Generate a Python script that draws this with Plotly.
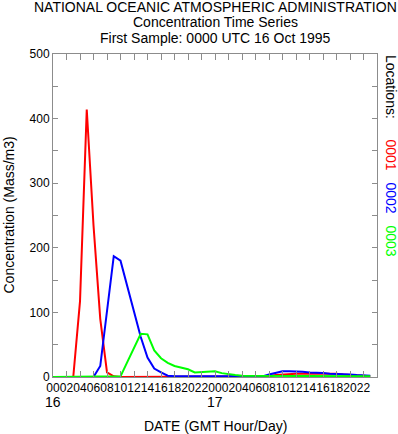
import plotly.graph_objects as go

hours = list(range(48))

loc_0001 = [0, 0, 0, 0, 117, 414, 235, 90, 7, 1,
            0, 0, 0, 0, 0, 0, 0, 0, 0, 0,
            0, 0, 0, 0, 0, 0, 0, 0, 0, 0,
            0, 0, 1, 3, 4, 5, 5, 5, 5, 5,
            5, 6, 5, 4, 3, 2, 1, 1]
loc_0002 = [0, 0, 0, 0, 0, 0, 0, 17, 102, 187,
            180, 140, 100, 62, 30, 13, 7, 2, 1, 1,
            1, 1, 1, 1, 1, 1, 1, 1, 1, 1,
            1, 1, 4, 7, 9, 9, 9, 8, 7, 7,
            6, 5, 5, 4, 4, 3, 2, 2]
loc_0003 = [0, 0, 0, 0, 0, 0, 0, 0, 0, 0,
            1, 23, 45, 67, 66, 41, 29, 22, 17, 14,
            12, 7, 8, 8, 9, 6, 4, 3, 2, 2,
            2, 2, 2, 2, 2, 2, 2, 2, 2, 2,
            2, 2, 2, 2, 2, 2, 1, 1]

series_names = ["0001", "0002", "0003"]
series_colors = ["#ff0000", "#0000ff", "#00ff00"]

x_tickvals = list(range(0, 48, 2))
x_ticktext = ["%02d" % (h % 24) for h in x_tickvals]
day_labels = ["16", "17"]
day_positions = [0, 24]

y_tickvals = list(range(0, 501, 50))
y_ticktext = [str(v) if v % 100 == 0 else "" for v in y_tickvals]

FONT = "Liberation Sans, Arial, Helvetica, sans-serif"
AXIS_COLOR = "#8c8c8c"

fig = go.Figure()
for name, vals, col in zip(series_names, [loc_0001, loc_0002, loc_0003], series_colors):
    fig.add_trace(go.Scatter(x=hours, y=vals, mode="lines", name=name,
                             line=dict(color=col, width=2)))

fig.update_layout(
    width=398, height=434,
    margin=dict(l=53, r=21, t=54, b=57),
    paper_bgcolor="white", plot_bgcolor="white",
    showlegend=False,
    font=dict(family=FONT, size=12, color="black"),
)

fig.update_xaxes(
    range=[0, 48], tickmode="array", tickvals=x_tickvals, ticktext=x_ticktext,
    ticks="inside", ticklen=6, tickcolor=AXIS_COLOR, tickwidth=1,
    showline=True, linecolor=AXIS_COLOR, linewidth=1, mirror="ticks",
    showgrid=False, zeroline=False, tickangle=0,
    tickfont=dict(size=12, family=FONT, color="black"),
)
fig.update_yaxes(
    range=[0, 500], tickmode="array", tickvals=y_tickvals, ticktext=y_ticktext,
    ticks="inside", ticklen=5, tickcolor=AXIS_COLOR, tickwidth=1,
    showline=True, linecolor=AXIS_COLOR, linewidth=1, mirror="ticks",
    showgrid=False, zeroline=False,
    tickfont=dict(size=12, family=FONT, color="black"),
)

def py(p):
    # pixel y -> paper y
    return (377 - p) / 323.0

def px(p):
    return (p - 53) / 324.0

annotations = []
titles = [("NATIONAL OCEANIC ATMOSPHERIC ADMINISTRATION", 7),
          ("Concentration Time Series", 22),
          ("First Sample: 0000 UTC 16 Oct 1995", 38)]
for txt, yy in titles:
    annotations.append(dict(text=txt, x=0.5, y=py(yy), xref="paper", yref="paper",
                            xanchor="center", yanchor="middle", showarrow=False,
                            font=dict(size=14, family=FONT, color="black")))

for lab, pos in zip(day_labels, day_positions):
    annotations.append(dict(text=lab, x=pos, y=py(402), xref="x", yref="paper",
                            xanchor="center", yanchor="middle", showarrow=False,
                            font=dict(size=14, family=FONT, color="black")))

annotations.append(dict(text="DATE (GMT Hour/Day)", x=0.5, y=py(426), xref="paper", yref="paper",
                        xanchor="center", yanchor="middle", showarrow=False,
                        font=dict(size=14, family=FONT, color="black")))
annotations.append(dict(text="Concentration (Mass/m3)", x=px(8), y=0.5, xref="paper", yref="paper",
                        xanchor="center", yanchor="middle", showarrow=False, textangle=-90,
                        font=dict(size=14, family=FONT, color="black")))

annotations.append(dict(text="Locations:", x=px(391), y=py(53), xref="paper", yref="paper",
                        xanchor="center", yanchor="top", showarrow=False, textangle=90,
                        font=dict(size=14, family=FONT, color="black")))
loc_y = [137, 180, 223]
for name, col, yy in zip(series_names, series_colors, loc_y):
    annotations.append(dict(text=name, x=px(391), y=py(yy), xref="paper", yref="paper",
                            xanchor="center", yanchor="top", showarrow=False, textangle=90,
                            font=dict(size=14, family=FONT, color=col)))

fig.update_layout(annotations=annotations)
fig.write_html("out.html", config={"displayModeBar": False},
               post_script="document.body.style.margin='0';document.body.style.overflow='hidden';")
